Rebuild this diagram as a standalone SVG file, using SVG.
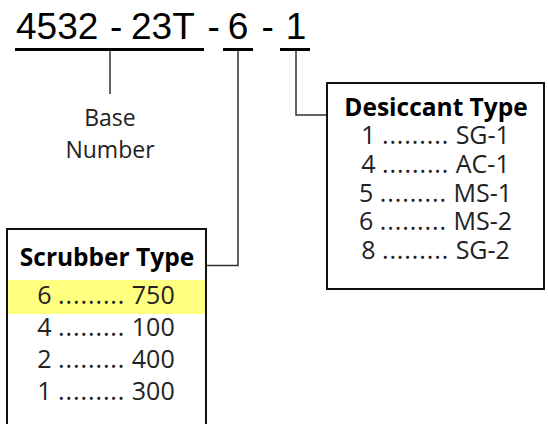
<svg xmlns="http://www.w3.org/2000/svg" width="548" height="424" viewBox="0 0 548 424">
<style>
.pn{font-family:"Liberation Sans",Arial,sans-serif;font-size:37px;fill:#000}
.ul{fill:#000}
.conn{stroke:#333;stroke-width:1.5;fill:none}
.box{fill:#fff;stroke:#111;stroke-width:2}
.lbl{font-family:"Open Sans","Noto Sans",sans-serif;font-size:23px;fill:#222;text-anchor:middle}
.ttl{font-family:"Open Sans","Noto Sans",sans-serif;font-size:24.5px;font-weight:bold;fill:#000;text-anchor:middle}
.row{font-family:"Open Sans","Noto Sans",sans-serif;font-size:25px;fill:#222;text-anchor:middle}
.dots{letter-spacing:0.9px}
</style>
<rect width="548" height="424" fill="#fff"/>
<g id="partnumber">
<text class="pn" x="16" y="38.5">4532</text>
<text class="pn" x="110" y="38.5">-</text>
<text class="pn" x="131" y="38.5">23T</text>
<text class="pn" x="207.5" y="38.5">-</text>
<text class="pn" x="238" y="38.5" text-anchor="middle">6</text>
<text class="pn" x="261.5" y="38.5">-</text>
<text class="pn" x="296" y="38.5" text-anchor="middle">1</text>
<rect class="ul" x="15" y="48" width="189" height="3"/>
<rect class="ul" x="223" y="48" width="30" height="3"/>
<rect class="ul" x="280" y="48" width="30" height="3"/>
</g>
<g id="connectors">
<line class="conn" x1="110" y1="51" x2="110" y2="94"/>
<polyline class="conn" points="238,51 238,265.5 206,265.5"/>
<polyline class="conn" points="296,51 296,115 327,115"/>
</g>
<g id="base">
<text class="lbl" x="110" y="126">Base</text>
<text class="lbl" x="110" y="158">Number</text>
</g>
<g id="desiccant">
<rect class="box" x="327" y="83" width="217" height="206"/>
<text class="ttl" x="436" y="116">Desiccant Type</text>
<text class="row" x="435.5" y="144">1 <tspan class="dots">.........</tspan> SG-1</text>
<text class="row" x="435.5" y="173">4 <tspan class="dots">.........</tspan> AC-1</text>
<text class="row" x="435.5" y="201.5">5 <tspan class="dots">.........</tspan> MS-1</text>
<text class="row" x="435.5" y="230">6 <tspan class="dots">.........</tspan> MS-2</text>
<text class="row" x="435.5" y="258.5">8 <tspan class="dots">.........</tspan> SG-2</text>
</g>
<g id="scrubber">
<rect class="box" x="7" y="229" width="199" height="210"/>
<rect x="8" y="280" width="197" height="34" fill="#ffff80"/>
<text class="ttl" x="107" y="266">Scrubber Type</text>
<text class="row" x="106" y="304">6 <tspan class="dots">.........</tspan> 750</text>
<text class="row" x="106" y="336">4 <tspan class="dots">.........</tspan> 100</text>
<text class="row" x="106" y="368">2 <tspan class="dots">.........</tspan> 400</text>
<text class="row" x="106" y="400">1 <tspan class="dots">.........</tspan> 300</text>
</g>
</svg>
